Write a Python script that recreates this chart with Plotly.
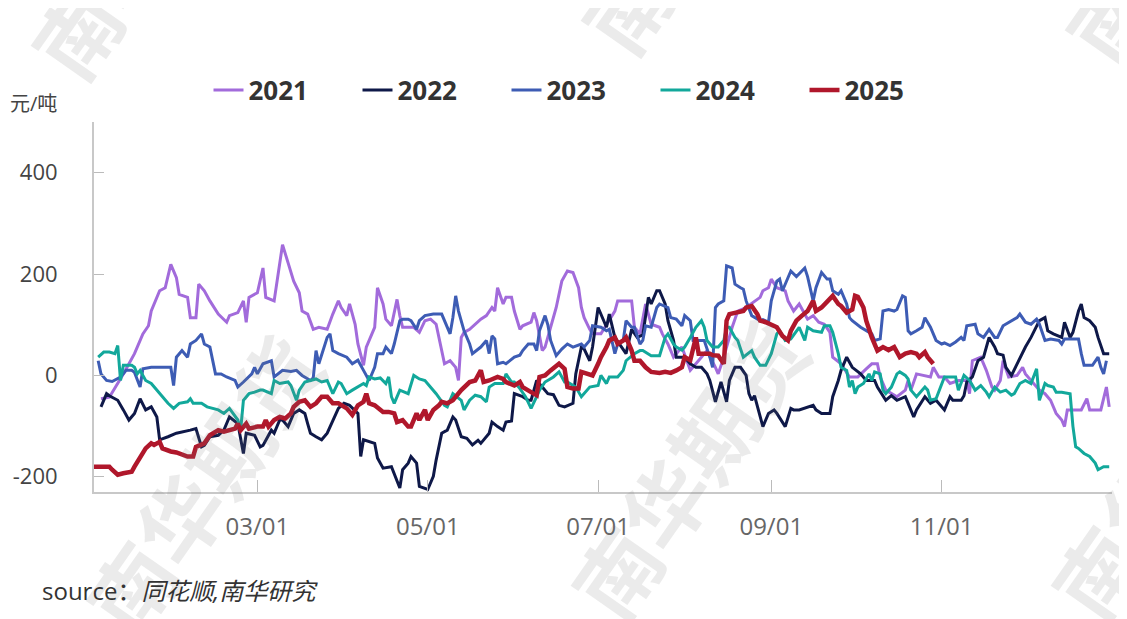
import pandas as pd
import plotly.graph_objects as go

# day-of-year offsets (0 = Jan 1) and spread values (元/吨)
days_2021 = [3, 6, 11, 15, 18, 20, 21, 24, 26, 28, 30, 31, 34, 35, 37, 38, 40, 42, 45, 48,
             49, 52, 54, 55, 56, 59, 61, 62, 65, 68, 70, 72, 74, 75, 77, 79, 81, 84, 86, 88,
             89, 91, 92, 94, 95, 97, 98, 101, 102, 104, 105, 107, 109, 110, 111, 115, 117, 119, 121, 123,
             126, 128, 130, 131, 132, 133, 135, 139, 141, 143, 144, 145, 147, 148, 150, 151, 153, 154, 157, 158,
             159, 161, 162, 164, 166, 168, 170, 172, 174, 175, 176, 178, 179, 182, 187, 188, 193, 194, 196, 198,
             200, 203, 204, 206, 208, 211, 214, 216, 220, 223, 224, 226, 227, 229, 231, 234, 239, 240, 242, 243,
             245, 248, 249, 251, 253, 255, 256, 258, 260, 262, 264, 265, 267, 268, 271, 274, 277, 279, 281, 282,
             284, 286, 288, 291, 292, 293, 295, 300, 301, 303, 305, 307, 310, 313, 314, 315, 318, 320, 322, 323,
             325, 326, 328, 331, 333, 334, 336, 339, 341, 343, 345, 347, 348, 349, 354, 356, 357, 361, 363, 364]
vals_2021 = [-46, -43, 3, 43, 82, 98, 127, 167, 173, 219, 193, 160, 154, 114, 114, 180, 167, 147, 121, 105,
             118, 124, 147, 105, 154, 163, 212, 154, 147, 258, 222, 186, 163, 127, 121, 91, 95, 91, 121, 147,
             134, 118, 141, 101, 62, 20, 56, 95, 173, 141, 111, 98, 150, 118, 95, 95, 85, 108, 111, 101,
             23, 29, 16, -10, 75, 85, 91, 111, 118, 134, 127, 173, 141, 154, 154, 127, 91, 98, 105, 124,
             108, 49, 56, 95, 134, 186, 206, 203, 173, 134, 114, 91, 82, 82, 127, 147, 147, 95, 82, 141,
             101, 95, 82, 62, 36, 56, 10, 23, 49, 16, 3, 36, 56, 95, 127, 134, 154, 167, 173, 190,
             173, 167, 147, 127, 141, 121, 111, 118, 105, 101, 85, 36, 26, 23, -3, -3, 13, 23, 23, -3,
             -29, -36, -42, -29, -10, -29, 3, -3, 16, -3, -3, -16, -10, -10, -36, 29, 36, 10, -23, -29,
             -10, 29, -3, 0, 16, 3, -10, -29, -36, -49, -75, -88, -101, -68, -68, -46, -68, -68, -23, -62]

days_2022 = [3, 5, 6, 9, 11, 13, 15, 17, 19, 21, 23, 24, 27, 30, 35, 37, 39, 40, 42, 45,
             47, 49, 52, 54, 55, 58, 60, 61, 64, 65, 67, 68, 70, 72, 74, 76, 77, 78, 80, 82,
             84, 86, 88, 90, 92, 95, 96, 97, 99, 101, 102, 104, 107, 110, 111, 113, 114, 116, 117, 120,
             122, 123, 125, 127, 129, 130, 132, 134, 136, 138, 139, 142, 143, 145, 147, 148, 150, 151, 154, 156,
             157, 159, 161, 163, 165, 167, 169, 172, 173, 175, 176, 178, 179, 181, 184, 185, 187, 190, 191, 193,
             195, 197, 199, 200, 202, 203, 205, 206, 208, 209, 211, 212, 214, 216, 218, 220, 221, 223, 225, 227,
             228, 230, 232, 234, 235, 236, 237, 238, 240, 242, 244, 245, 248, 250, 251, 253, 256, 258, 259, 261,
             264, 265, 267, 268, 270, 272, 275, 277, 280, 281, 284, 286, 288, 291, 292, 294, 295, 298, 300, 302,
             305, 307, 308, 311, 312, 313, 315, 317, 319, 321, 323, 324, 326, 327, 329, 331, 334, 336, 338, 339,
             341, 342, 344, 347, 348, 350, 351, 353, 354, 355, 357, 359, 360, 362, 364]
vals_2022 = [-62, -36, -40, -49, -68, -88, -75, -46, -68, -62, -82, -127, -121, -114, -108, -105, -141, -138, -121, -118,
             -108, -82, -95, -154, -114, -118, -141, -138, -108, -114, -88, -88, -101, -75, -68, -75, -95, -114, -121, -127,
             -114, -88, -65, -55, -59, -75, -160, -127, -130, -134, -163, -183, -180, -222, -186, -173, -160, -173, -219, -225,
             -199, -167, -114, -108, -82, -88, -121, -124, -137, -128, -134, -114, -92, -101, -108, -92, -90, -36, -42, -49,
             -49, -10, -23, -36, -38, -59, -62, -55, 3, 56, 52, 29, 56, 134, 95, 121, 75, 49, 43, 91,
             75, 80, 154, 141, 167, 167, 141, 108, 69, 36, 36, 36, 23, 16, 16, 3, -10, -52, -13, -52,
             -10, 16, 16, 0, -36, -49, -40, -62, -101, -75, -68, -75, -101, -65, -68, -68, -62, -59, -68, -75,
             -75, -42, -10, 10, 36, 16, 3, -10, -10, -23, -49, -40, -49, -42, -55, -82, -68, -42, -55, -49,
             -68, -42, -49, -49, -40, -13, -3, 29, 36, 75, 56, 43, 40, 16, 0, 23, 56, 75, 98, 108,
             114, 88, 82, 75, 105, 75, 85, 127, 141, 114, 108, 95, 75, 43, 43]

days_2023 = [2, 3, 5, 7, 10, 12, 14, 15, 17, 18, 21, 24, 28, 29, 30, 32, 34, 35, 37, 39,
             40, 42, 44, 46, 48, 51, 52, 54, 57, 58, 59, 61, 64, 65, 68, 71, 73, 75, 78, 79,
             80, 81, 83, 84, 85, 86, 88, 91, 93, 95, 97, 99, 101, 102, 104, 105, 107, 108, 110, 111,
             113, 114, 116, 117, 119, 122, 125, 126, 128, 129, 130, 131, 133, 135, 136, 139, 141, 142, 143, 144,
             145, 147, 148, 151, 153, 154, 156, 158, 159, 160, 162, 163, 164, 166, 168, 170, 172, 175, 176, 178,
             179, 182, 184, 185, 187, 188, 190, 191, 193, 194, 196, 197, 198, 200, 202, 203, 206, 207, 209, 211,
             212, 214, 215, 216, 219, 221, 222, 223, 224, 226, 227, 229, 230, 232, 233, 234, 236, 239, 240, 242,
             243, 245, 246, 247, 250, 252, 255, 256, 258, 259, 261, 263, 264, 265, 267, 268, 270, 271, 272, 275,
             279, 280, 282, 283, 285, 287, 288, 290, 291, 292, 293, 295, 297, 298, 300, 302, 304, 305, 307, 309,
             311, 312, 313, 316, 317, 319, 321, 323, 324, 326, 327, 329, 331, 332, 334, 336, 338, 339, 341, 343,
             346, 347, 348, 351, 353, 354, 355, 358, 360, 361, 362, 363]
vals_2023 = [29, 3, -10, -12, -3, 10, 10, 6, -23, 13, 16, 16, 16, -20, 36, 49, 36, 62, 69, 82,
             62, 56, 3, 3, -3, -10, -23, -13, 3, 16, 3, 23, 29, -3, 10, 8, 10, 0, -10, -5,
             49, 23, 56, 75, 82, 49, 43, 36, 23, 30, 10, -10, 16, 43, 43, 56, 43, 62, 108, 111,
             111, 108, 91, 108, 118, 121, 121, 108, 82, 114, 157, 127, 88, 62, 43, 56, 69, 43, 78, 72,
             23, 26, 23, 36, 40, 49, 62, 62, 49, 88, 118, 100, 69, 39, 52, 62, 56, 62, 56, 69,
             98, 95, 88, 91, 43, 62, 69, 108, 95, 95, 62, 69, 98, 95, 134, 141, 134, 114, 111, 98,
             118, 108, 69, 69, 69, 36, 16, 134, 141, 147, 216, 212, 180, 173, 170, 147, 118, 108, 110, 105,
             147, 186, 190, 167, 206, 195, 212, 195, 147, 173, 203, 190, 190, 167, 160, 167, 141, 114, 108, 95,
             82, 69, 72, 127, 130, 127, 130, 157, 154, 88, 82, 88, 95, 114, 95, 69, 62, 64, 59, 66,
             75, 69, 98, 101, 82, 75, 91, 75, 75, 98, 101, 108, 114, 121, 105, 101, 111, 101, 69, 72,
             69, 62, 72, 72, 72, 43, 20, 20, 36, 16, 3, 29]

days_2024 = [2, 4, 6, 8, 9, 10, 11, 14, 15, 16, 17, 19, 21, 23, 25, 27, 29, 31, 34, 35,
             36, 39, 41, 45, 47, 49, 52, 53, 54, 56, 58, 60, 61, 64, 65, 67, 70, 71, 73, 74,
             76, 78, 80, 82, 84, 86, 88, 89, 91, 93, 95, 97, 98, 99, 101, 103, 105, 106, 107, 108,
             110, 113, 115, 117, 119, 121, 123, 126, 127, 129, 132, 133, 135, 137, 139, 141, 142, 144, 147, 148,
             150, 151, 153, 155, 157, 159, 160, 162, 165, 167, 169, 170, 173, 175, 176, 178, 181, 182, 184, 185,
             188, 190, 191, 194, 196, 197, 200, 203, 205, 206, 208, 209, 211, 212, 214, 216, 218, 219, 220, 222,
             224, 226, 227, 228, 230, 231, 233, 236, 237, 239, 241, 243, 245, 246, 248, 250, 253, 255, 256, 258,
             261, 262, 264, 265, 267, 268, 270, 271, 272, 273, 274, 276, 278, 279, 280, 282, 283, 284, 286, 288,
             289, 291, 292, 293, 295, 298, 299, 300, 302, 304, 305, 307, 309, 310, 311, 312, 314, 316, 318, 320,
             321, 323, 325, 327, 329, 330, 332, 334, 336, 338, 339, 340, 341, 342, 344, 345, 347, 350, 351, 352,
             353, 355, 357, 359, 360, 362, 364]
vals_2024 = [36, 46, 46, 43, 59, -10, 20, 20, 16, 3, 10, -10, -16, -29, -42, -55, -65, -55, -52, -46,
             -55, -55, -62, -68, -75, -65, -88, -108, -49, -36, -33, -29, -29, -36, -10, -16, -13, -20, -49, -29,
             -13, -10, -7, -13, -10, -36, -13, -16, -36, -29, -23, -16, -20, -3, -7, -5, -16, -3, -42, -55,
             -29, -36, 0, -7, -10, -23, -36, -59, -62, -36, -49, -68, -49, -39, -42, -52, -23, -16, -16, 3,
             -13, -13, -26, -42, -65, -42, -29, -13, -3, 7, -13, -13, -23, -42, -36, -23, -20, 0, -16, -3,
             -3, 10, 29, 43, 49, 49, 39, 39, 75, 82, 62, 56, 50, 56, 75, 95, 108, 95, 69, 56,
             56, 69, 95, 95, 75, 69, 36, 49, 36, 20, 20, 43, 82, 88, 69, 72, 95, 69, 95, 88,
             85, 98, 98, 85, 43, 16, 10, -23, -10, -36, -23, -16, 3, -10, 7, 3, -29, -36, -23, 3,
             7, 0, -7, -29, -42, -23, -29, -49, -46, -16, -3, -3, -3, -29, -13, 0, -10, -29, -20, -33,
             -42, -23, -33, -29, -39, -36, -16, -10, -16, 13, -49, -33, -16, -20, -23, -33, -33, -36, -100, -141,
             -144, -154, -160, -173, -186, -180, -180]

days_2025 = [0, 6, 7, 9, 11, 14, 15, 17, 19, 21, 22, 24, 25, 28, 30, 34, 36, 37, 40, 42,
             45, 47, 49, 51, 52, 53, 55, 56, 59, 61, 62, 63, 65, 67, 69, 71, 72, 74, 76, 78,
             80, 82, 84, 86, 88, 91, 93, 95, 97, 98, 99, 101, 104, 106, 108, 109, 111, 113, 114, 116,
             117, 119, 120, 122, 124, 125, 127, 129, 132, 133, 135, 137, 139, 140, 142, 145, 147, 148, 151, 153,
             154, 157, 159, 160, 162, 164, 166, 167, 169, 170, 172, 174, 175, 177, 179, 181, 182, 184, 185, 187,
             188, 190, 191, 193, 194, 196, 198, 200, 203, 205, 207, 209, 211, 212, 214, 216, 217, 219, 221, 222,
             224, 226, 227, 228, 231, 233, 234, 236, 238, 239, 241, 243, 245, 247, 249, 250, 252, 254, 256, 258,
             259, 261, 263, 265, 267, 268, 270, 272, 273, 274, 276, 277, 279, 281, 283, 285, 287, 289, 291, 293,
             295, 296, 298, 299, 301]
vals_2025 = [-180, -180, -186, -196, -193, -190, -180, -160, -144, -134, -137, -131, -144, -150, -152, -160, -160, -141, -134, -118,
             -108, -111, -108, -105, -95, -108, -95, -105, -101, -101, -88, -101, -88, -82, -85, -75, -62, -52, -49, -62,
             -55, -42, -42, -55, -55, -65, -78, -59, -52, -36, -55, -59, -72, -72, -75, -92, -88, -101, -101, -75,
             -88, -68, -88, -68, -59, -52, -55, -49, -29, -23, -13, -10, 10, -13, -10, -3, -7, -13, -20, -13,
             -23, -33, -39, -3, 0, 10, 20, 23, 13, -23, -26, -26, 7, 3, 0, 23, 36, 56, 69, 75,
             62, 69, 75, 49, 29, 29, 16, 7, 5, 7, 5, 10, 16, 36, 30, 75, 43, 43, 43, 40,
             39, 23, 108, 121, 124, 127, 134, 137, 121, 108, 105, 101, 95, 78, 69, 88, 108, 118, 127, 147,
             127, 134, 147, 157, 141, 137, 124, 130, 157, 155, 134, 108, 75, 49, 56, 50, 56, 36, 43, 46,
             43, 36, 46, 36, 23]

YEARS = ["2021", "2022", "2023", "2024", "2025"]
SERIES = {
    "2021": (days_2021, vals_2021),
    "2022": (days_2022, vals_2022),
    "2023": (days_2023, vals_2023),
    "2024": (days_2024, vals_2024),
    "2025": (days_2025, vals_2025),
}
COLORS = {
    "2021": "#A26BDB",
    "2022": "#0E1848",
    "2023": "#3D5CB4",
    "2024": "#12A89B",
    "2025": "#B0172B",
}
WIDTHS = {"2021": 3, "2022": 3, "2023": 3, "2024": 3, "2025": 4.5}

y_ticks = [-200, 0, 200, 400]
x_ticks = ["2025-03-01", "2025-05-01", "2025-07-01", "2025-09-01", "2025-11-01"]
x_tick_text = ["03/01", "05/01", "07/01", "09/01", "11/01"]

BASE = pd.Timestamp("2025-01-01")
FONT = "Open Sans, Noto Sans CJK SC, sans-serif"

# the page body adds an 8px margin, so the figure is drawn 8px smaller
OFF = 8
W, H = 1127 - OFF, 619 - OFF
# plot area in page pixels (used only to place the free text)
L, R, T, B = 94, 1112, 122, 492


def px(x, y):
    return (x - L) / (R - L), (B - y) / (B - T)


fig = go.Figure()

for year in YEARS:
    days, vals = SERIES[year]
    assert len(days) == len(vals), (year, len(days), len(vals))
    dates = BASE + pd.to_timedelta(days, unit="D")
    fig.add_trace(go.Scatter(
        x=dates,
        y=vals,
        mode="lines",
        name=year,
        line=dict(color=COLORS[year], width=WIDTHS[year]),
    ))

annotations = []

# watermark, centre of each rotated "南华期货"
for cx, cy in [(205, 485), (690, 470), (1170, 470), (150, -70), (700, -95), (1185, -85)]:
    ax, ay = px(cx, cy)
    annotations.append(dict(
        text="南华期货", x=ax, y=ay, xref="paper", yref="paper",
        xanchor="center", yanchor="middle",
        showarrow=False, textangle=-55,
        font=dict(family=FONT, size=84, color="rgba(120,120,120,0.15)", weight="bold"),
    ))

ax, ay = px(8, 103)
annotations.append(dict(
    text="元/吨", x=ax, y=ay, xref="paper", yref="paper", xanchor="left", yanchor="middle",
    showarrow=False, font=dict(family=FONT, size=20, color="#444"),
))
ax, ay = px(40, 590)
annotations.append(dict(
    text="source：<i>同花顺,南华研究</i>", x=ax, y=ay, xref="paper", yref="paper",
    xanchor="left", yanchor="middle",
    showarrow=False, font=dict(family=FONT, size=24, color="#333"),
))

fig.update_layout(
    width=W,
    height=H,
    paper_bgcolor="white",
    plot_bgcolor="white",
    font=dict(family=FONT, size=20, color="#444"),
    margin=dict(l=L - OFF, r=1127 - R, t=T - OFF, b=619 - B, autoexpand=False),
    showlegend=True,
    legend=dict(
        orientation="h",
        xref="container", yref="container",
        x=573 / W, y=1 - 82 / H, xanchor="center", yanchor="middle",
        font=dict(family=FONT, size=26, color="#333", weight="bold"),
        itemwidth=30,
        entrywidth=104,
    ),
    annotations=annotations,
    xaxis=dict(
        type="date",
        range=["2025-01-01 12:00", "2026-01-01"],
        tickvals=x_ticks,
        ticktext=x_tick_text,
        ticks="inside",
        ticklen=12,
        tickcolor="#BBBBBB",
        showline=True,
        linecolor="#C8C8C8",
        linewidth=2,
        showgrid=False,
        zeroline=False,
        automargin=False,
        tickfont=dict(size=24, color="#666"),
        ticklabelstandoff=12,
    ),
    yaxis=dict(
        range=[-230, 500],
        tickvals=y_ticks,
        ticktext=[str(v) for v in y_ticks],
        ticks="inside",
        ticklen=10,
        tickcolor="#BBBBBB",
        showline=True,
        linecolor="#C8C8C8",
        linewidth=2,
        showgrid=False,
        zeroline=False,
        automargin=False,
        tickfont=dict(size=22, color="#444"),
        ticklabelstandoff=30,
    ),
)

fig.write_html("out.html")
